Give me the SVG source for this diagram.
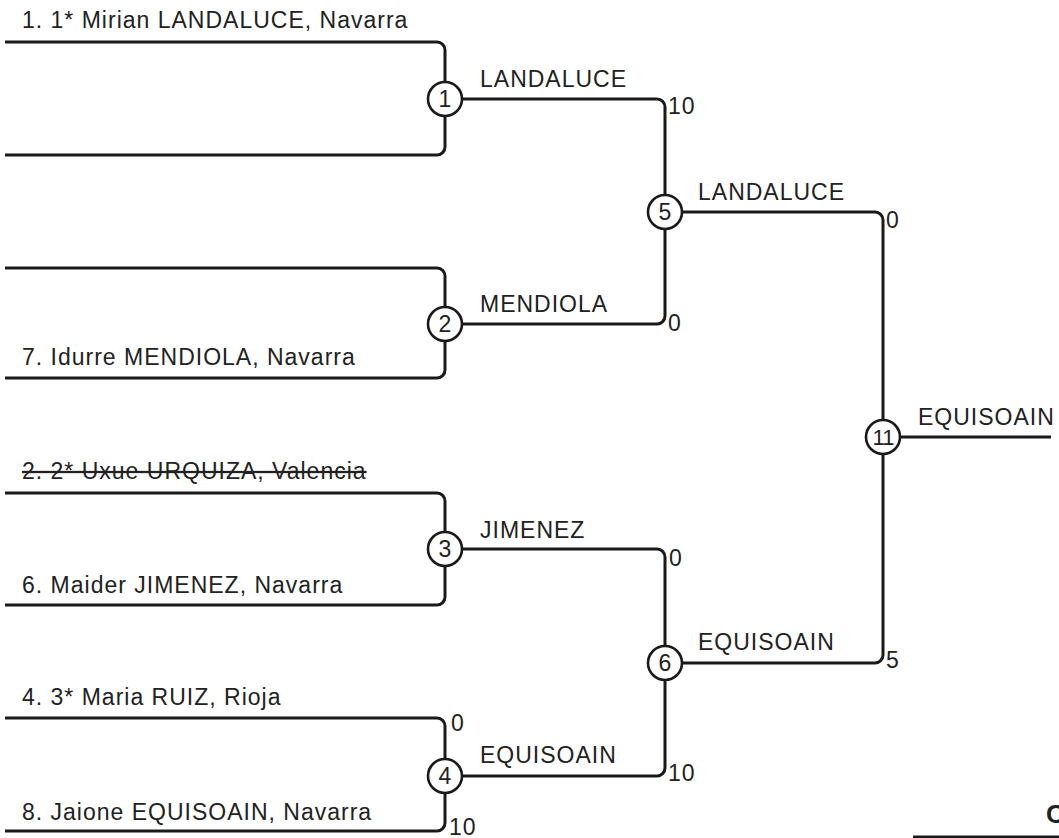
<svg xmlns="http://www.w3.org/2000/svg" width="1059" height="838" viewBox="0 0 1059 838">
<style>
text{font-family:"Liberation Sans",Arial,sans-serif;font-size:23px;fill:#222;letter-spacing:1px}
.ln{fill:none;stroke:#1a1a1a;stroke-width:3}
.c circle{fill:#fff;stroke:#1a1a1a;stroke-width:2.6}
.c text{text-anchor:middle;letter-spacing:0}
</style>
<rect width="1059" height="838" fill="#fff"/>
<g id="connectors">
<path class="ln" d="M5,42 H437 A8,8 0 0 1 445,50 V147 A8,8 0 0 1 437,155 H5"/>
<path class="ln" d="M5,268 H437 A8,8 0 0 1 445,276 V370 A8,8 0 0 1 437,378 H5"/>
<path class="ln" d="M5,493 H437 A8,8 0 0 1 445,501 V597 A8,8 0 0 1 437,605 H5"/>
<path class="ln" d="M5,718 H437 A8,8 0 0 1 445,726 V823 A8,8 0 0 1 437,831 H5"/>
<path class="ln" d="M445,99 H657 A8,8 0 0 1 665,107 V212"/>
<path class="ln" d="M445,324 H657 A8,8 0 0 0 665,316 V212"/>
<path class="ln" d="M445,549 H657 A8,8 0 0 1 665,557 V663"/>
<path class="ln" d="M445,776 H657 A8,8 0 0 0 665,768 V663"/>
<path class="ln" d="M665,212 H875 A8,8 0 0 1 883,220 V437"/>
<path class="ln" d="M665,663 H875 A8,8 0 0 0 883,655 V437"/>
<path class="ln" d="M883,437 H1051"/>
<path class="ln" d="M913,837 H1059"/>
</g>
<g id="entrants">
<text x="22" y="28">1. 1* Mirian LANDALUCE, Navarra</text>
<text x="22" y="365">7. Idurre MENDIOLA, Navarra</text>
<text x="22" y="479" text-decoration="line-through">2. 2* Uxue URQUIZA, Valencia</text>
<text x="22" y="593">6. Maider JIMENEZ, Navarra</text>
<text x="22" y="705">4. 3* Maria RUIZ, Rioja</text>
<text x="22" y="820">8. Jaione EQUISOAIN, Navarra</text>
</g>
<g id="winners">
<text x="480" y="87">LANDALUCE</text>
<text x="480" y="312">MENDIOLA</text>
<text x="480" y="538">JIMENEZ</text>
<text x="480" y="763">EQUISOAIN</text>
<text x="698" y="200">LANDALUCE</text>
<text x="698" y="650">EQUISOAIN</text>
<text x="918" y="425">EQUISOAIN</text>
</g>
<g id="scores">
<text x="668" y="114">10</text>
<text x="668" y="331">0</text>
<text x="886" y="228">0</text>
<text x="669" y="566">0</text>
<text x="451" y="731">0</text>
<text x="449" y="835">10</text>
<text x="668" y="781">10</text>
<text x="886" y="668">5</text>
</g>
<g id="node1" class="c"><circle cx="445" cy="99" r="17"/><text x="445" y="107">1</text></g>
<g id="node2" class="c"><circle cx="445" cy="324" r="17"/><text x="445" y="332">2</text></g>
<g id="node3" class="c"><circle cx="445" cy="549" r="17"/><text x="445" y="557">3</text></g>
<g id="node4" class="c"><circle cx="445" cy="776" r="17"/><text x="445" y="784">4</text></g>
<g id="node5" class="c"><circle cx="665" cy="212" r="17"/><text x="665" y="220">5</text></g>
<g id="node6" class="c"><circle cx="665" cy="663" r="17"/><text x="665" y="671">6</text></g>
<g id="node11" class="c"><circle cx="883" cy="437" r="17"/><text x="883" y="445" style="font-size:22px;letter-spacing:-1px">11</text></g>
<text x="1046" y="823" style="font-weight:bold;font-size:26px">C</text>
</svg>
